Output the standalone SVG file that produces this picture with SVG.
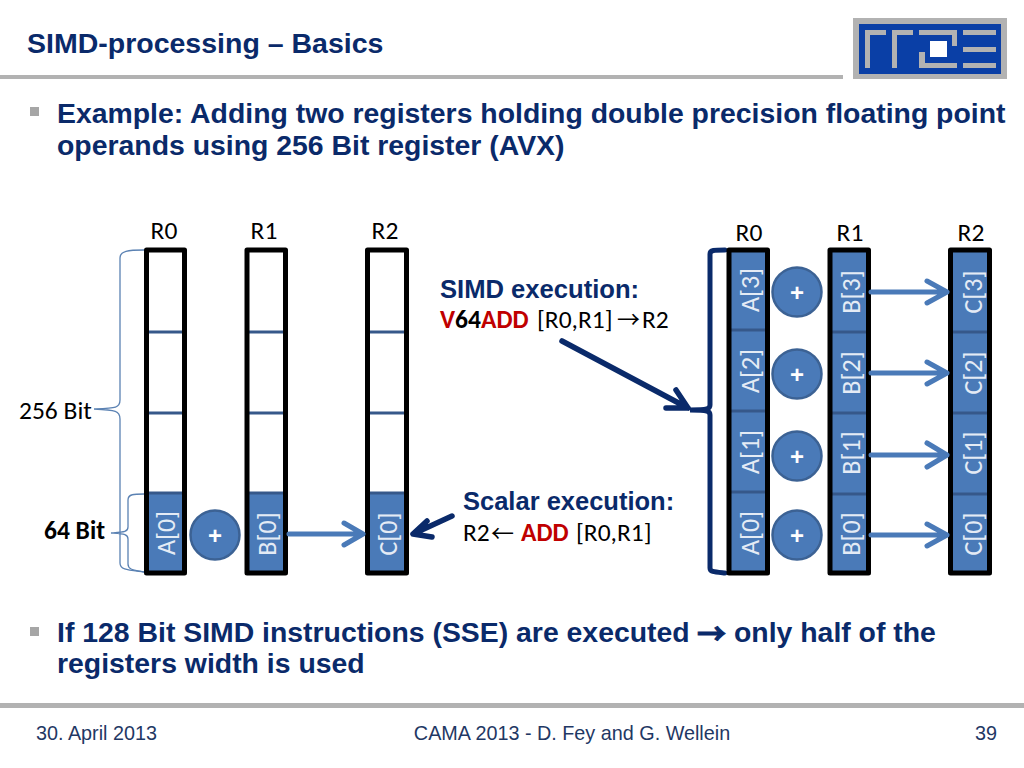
<svg xmlns="http://www.w3.org/2000/svg" width="1024" height="768" viewBox="0 0 1024 768">
<defs>
<style>
.c{font-family:Carlito,"Open Sans","Noto Sans",sans-serif;font-size:25.500px;fill:#000}
.arw{font-family:"Noto Sans CJK SC",sans-serif;font-size:23px;fill:#000}
.h{font-family:"Liberation Sans",Arial,sans-serif;font-weight:bold;fill:#0a2a6a}
.foot{font-family:"Liberation Sans",Arial,sans-serif;font-size:19.800px;fill:#1f3864}
.lab{font-family:Carlito,"Open Sans","Noto Sans",sans-serif;font-size:25.500px;fill:#000}
.reg{fill:none;stroke:#000;stroke-width:5;stroke-linejoin:round}
.cell{fill:#4a7ab8}
.div{stroke:#36588a;stroke-width:3}
.v{font-family:Carlito,"Open Sans","Noto Sans",sans-serif;font-size:26px;fill:#e4ebf5;text-anchor:middle}
.op{fill:#4a7ab8;stroke:#3c6294;stroke-width:2.500}
.pl{font-family:"Liberation Sans",Arial,sans-serif;font-size:24px;font-weight:bold;fill:#fff;text-anchor:middle}
.ar{fill:none;stroke:#4a7ab8;stroke-width:5;stroke-linecap:round;stroke-linejoin:round}
.nv{fill:none;stroke:#0a2a6a;stroke-width:5.500;stroke-linecap:round;stroke-linejoin:round}
.br{fill:none;stroke:#5b82b3;stroke-width:1.300}
.red{fill:#c00000;font-weight:bold}
</style>
</defs>
<rect width="1024" height="768" fill="#fff"/>
<g id="header">
<text x="27" y="53" class="h" font-size="28.500">SIMD-processing – Basics</text>
<rect x="0" y="75" width="843" height="4" fill="#b2b2b2"/>
</g>
<g id="logo">
<rect x="853" y="18" width="154" height="61" fill="#b2b2b2"/>
<rect x="859" y="24" width="142" height="50" fill="#0a3fa6"/>
<path d="M865 30h21v5h-16v33h-5zM892 30h21v5h-16v33h-5zM919 30h38v16h-5v-11h-33zM919 52h6v11h32v5h-38zM963 30h33v5h-33zM963 47h33v5h-33zM963 63h33v5h-33z" fill="#b2b2b2"/>
<rect x="930" y="41" width="17" height="16" fill="#fff"/>
</g>
<g id="bullet1">
<rect x="30" y="107" width="9" height="9" fill="#a6a6a6"/>
<text class="h" font-size="28.400"><tspan x="57" y="123">Example: Adding two registers holding double precision floating point</tspan><tspan x="57" y="155">operands using 256 Bit register (AVX)</tspan></text>
</g>
<g id="left-labels">
<text x="164" y="239" class="lab" text-anchor="middle">R0</text>
<text x="264" y="239" class="lab" text-anchor="middle">R1</text>
<text x="385" y="239" class="lab" text-anchor="middle">R2</text>
<text x="19" y="419" class="lab">256 Bit</text>
<text x="44" y="539" class="lab" font-weight="bold">64 Bit</text>
</g>
<g id="left-braces">
<path class="br" d="M144 250C128 250 120 251 120 258V400C120 408 116 408 94 409C116 410 120 411 120 419V563C120 570 128 570 144 572"/>
<path class="br" d="M144 494C134 494 128 494 128 500V527C128 532 124 532 111 533C124 534 128 534 128 539V564C128 570 134 570 144 572"/>
</g>
<g id="left-R0">
<rect class="cell" x="146" y="493" width="39" height="80"/>
<path class="div" d="M146 332H185M146 413H185M146 493H185"/>
<rect class="reg" x="146.500" y="250" width="38" height="323"/>
<text class="v" transform="translate(175 533) rotate(-90)">A[0]</text>
</g>
<g id="left-R1">
<rect class="cell" x="247" y="493" width="39" height="80"/>
<path class="div" d="M247 332H286M247 413H286M247 493H286"/>
<rect class="reg" x="247" y="250" width="38.500" height="323"/>
<text class="v" transform="translate(276 534) rotate(-90)">B[0]</text>
</g>
<g id="left-R2">
<rect class="cell" x="368" y="493" width="39" height="80"/>
<path class="div" d="M368 332H407M368 413H407M368 493H407"/>
<rect class="reg" x="367.500" y="250" width="39" height="323"/>
<text class="v" transform="translate(397 534) rotate(-90)">C[0]</text>
</g>
<g id="left-op">
<circle class="op" cx="215" cy="535" r="24.500"/>
<text class="pl" x="215" y="544">+</text>
</g>
<g id="text-simd">
<text x="440" y="298" class="h" font-size="25.600">SIMD execution:</text>
<text y="328" class="c"><tspan x="440" class="red">V</tspan><tspan font-weight="bold">64</tspan><tspan class="red">ADD</tspan><tspan x="537">[R0,R1]</tspan></text>
<text x="617" y="328" class="arw">→</text>
<text x="642" y="328" class="c">R2</text>
</g>
<g id="text-scalar">
<text x="463" y="510" class="h" font-size="25.500">Scalar execution:</text>
<text x="463" y="541" class="c">R2</text>
<text x="491" y="542" class="arw">←</text>
<text y="541" class="c"><tspan x="521" class="red">ADD</tspan><tspan x="576">[R0,R1]</tspan></text>
</g>
<g id="right-brace">
<path d="M725 250C714 250 710 250 710 254V405C710 409 708 410 690 410C708 410 710 411 710 415V568C710 572 714 572 725 573" fill="none" stroke="#0a2a6a" stroke-width="5" stroke-linecap="round"/>
</g>
<g id="right-labels">
<text x="749" y="241" class="lab" text-anchor="middle">R0</text>
<text x="850" y="241" class="lab" text-anchor="middle">R1</text>
<text x="971" y="241" class="lab" text-anchor="middle">R2</text>
</g>
<g id="right-R0">
<rect class="cell" x="729" y="250" width="39" height="323"/>
<path class="div" d="M729 330H768M729 411H768M729 492H768"/>
<rect class="reg" x="729" y="250" width="38.500" height="323"/>
<text class="v" transform="translate(759 290) rotate(-90)">A[3]</text>
<text class="v" transform="translate(759 371) rotate(-90)">A[2]</text>
<text class="v" transform="translate(759 452) rotate(-90)">A[1]</text>
<text class="v" transform="translate(759 533) rotate(-90)">A[0]</text>
</g>
<g id="right-R1">
<rect class="cell" x="830" y="250" width="39" height="323"/>
<path class="div" d="M830 332H869M830 413H869M830 494H869"/>
<rect class="reg" x="830" y="250" width="38.500" height="323"/>
<text class="v" transform="translate(860 292) rotate(-90)">B[3]</text>
<text class="v" transform="translate(860 373) rotate(-90)">B[2]</text>
<text class="v" transform="translate(860 453) rotate(-90)">B[1]</text>
<text class="v" transform="translate(860 534) rotate(-90)">B[0]</text>
</g>
<g id="right-R2">
<rect class="cell" x="951" y="250" width="39" height="323"/>
<path class="div" d="M951 332H990M951 413H990M951 494H990"/>
<rect class="reg" x="950.500" y="250" width="39" height="323"/>
<text class="v" transform="translate(982 292) rotate(-90)">C[3]</text>
<text class="v" transform="translate(982 373) rotate(-90)">C[2]</text>
<text class="v" transform="translate(982 453) rotate(-90)">C[1]</text>
<text class="v" transform="translate(982 534) rotate(-90)">C[0]</text>
</g>
<g id="right-ops">
<circle class="op" cx="797" cy="292" r="24.500"/><text class="pl" x="797" y="301">+</text>
<circle class="op" cx="797" cy="374" r="24.500"/><text class="pl" x="797" y="383">+</text>
<circle class="op" cx="797" cy="456" r="24.500"/><text class="pl" x="797" y="465">+</text>
<circle class="op" cx="797" cy="535" r="24.500"/><text class="pl" x="797" y="544">+</text>
</g>
<g id="connectors">
<path class="ar" d="M289 534H363M344 523L363 534L344 545"/>
<path class="ar" d="M871 292H947M927 281L947 292L927 303"/>
<path class="ar" d="M871 373H947M927 362L947 373L927 384"/>
<path class="ar" d="M871 455H947M927 443L947 455L927 467"/>
<path class="ar" d="M871 535H947M927 524L947 535L927 546"/>
<path class="nv" d="M562 341L688 408M666 408L688 408L676 390"/>
<path class="nv" d="M452 516L413 534M427 521L413 534L432 537"/>
</g>
<g id="bullet2">
<rect x="30" y="627" width="9" height="9" fill="#a6a6a6"/>
<text class="h" font-size="28.400"><tspan x="57" y="642">If 128 Bit SIMD instructions (SSE) are executed</tspan><tspan x="734">only half of the</tspan><tspan x="57" y="673">registers width is used</tspan></text>
<text x="697" y="645" font-family="Noto Sans CJK SC,sans-serif" font-weight="bold" font-size="29px" fill="#0a2a6a" stroke="#0a2a6a" stroke-width="1">→</text>
</g>
<g id="footer">
<rect x="0" y="703" width="1024" height="5" fill="#b2b2b2"/>
<text x="36" y="740" class="foot">30. April 2013</text>
<text x="572" y="740" class="foot" text-anchor="middle">CAMA 2013 - D. Fey and G. Wellein</text>
<text x="997" y="740" class="foot" text-anchor="end">39</text>
</g>
</svg>
